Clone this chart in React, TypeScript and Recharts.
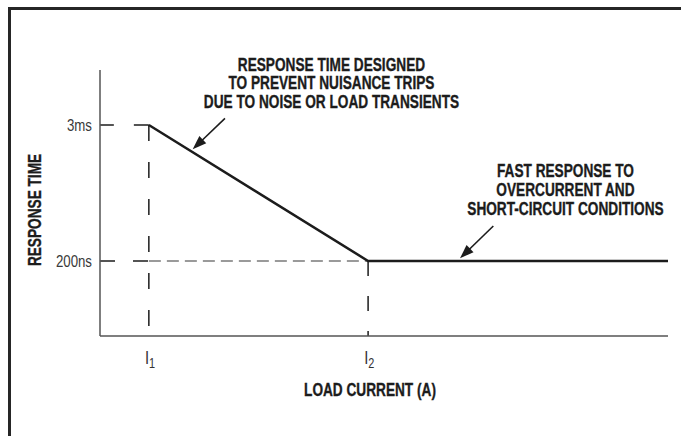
import React from "react";
import {
  LineChart,
  Line,
  XAxis,
  YAxis,
  ReferenceLine,
  ReferenceDot,
} from "recharts";

// load current (arbitrary units, 0..100 across the axis) and response time (0..100 up the axis)
const loadCurrent = [8.6, 47.2, 100];
const responseTime = [79.3, 28.2, 28.2];

const xTicks = [8.6, 47.2];
const xTickSubs = ["1", "2"];
const yTicks = [28.2, 79.3];
const yTickLabels = ["200ns", "3ms"];

const noteSlow = [
  "RESPONSE TIME DESIGNED",
  "TO PREVENT NUISANCE TRIPS",
  "DUE TO NOISE OR LOAD TRANSIENTS",
];
const noteSlowAt = [40.75, 102.1];
const arrowSlow = [
  [22.0, 81.8],
  [16.32, 70.2],
];

const noteFast = [
  "FAST RESPONSE TO",
  "OVERCURRENT AND",
  "SHORT-CIRCUIT CONDITIONS",
];
const noteFastAt = [81.95, 62.0];
const arrowFast = [
  [69.25, 41.35],
  [63.38, 29.2],
];

const data = loadCurrent.map((x, i) => ({ x, t: responseTime[i] }));

// no narrow face installed, so squeeze Liberation Sans horizontally (like Helvetica Condensed)
const FONT = '"Liberation Sans", Arial, sans-serif';
const SQUEEZE = 0.78;
const INK = "#1c1c1c";

const squeezeAt = (cx: number) =>
  `translate(${cx} 0) scale(${SQUEEZE} 1) translate(${-cx} 0)`;

function Arrow(props: any) {
  const { x1, y1, x2, y2 } = props;
  const dx = x2 - x1;
  const dy = y2 - y1;
  const len = Math.sqrt(dx * dx + dy * dy) || 1;
  const ux = dx / len;
  const uy = dy / len;
  const head = 14;
  const half = 5;
  const bx = x2 - ux * head;
  const by = y2 - uy * head;
  const pts = [
    [x2, y2],
    [bx - uy * half, by + ux * half],
    [bx + uy * half, by - ux * half],
  ]
    .map((p) => p.join(","))
    .join(" ");
  return (
    <g>
      <line x1={x1} y1={y1} x2={bx + ux * 2} y2={by + uy * 2} stroke={INK} strokeWidth={1.6} />
      <polygon points={pts} fill={INK} />
    </g>
  );
}

const boldText = {
  fontFamily: FONT,
  fontWeight: 700,
  fill: INK,
  stroke: INK,
  strokeWidth: 0.35,
};

function Note({ lines }: { lines: string[] }) {
  return (p: any) => (
    <g transform={squeezeAt(p.cx)}>
      <text x={p.cx} y={p.cy + 6.3} textAnchor="middle" fontSize={17.5} {...boldText}>
        {lines.map((l, i) => (
          <tspan key={i} x={p.cx} dy={i === 0 ? 0 : 18.6}>
            {l}
          </tspan>
        ))}
      </text>
    </g>
  );
}

function XTick(props: any) {
  const { x, y, payload } = props;
  const i = xTicks.indexOf(payload.value);
  return (
    <g transform={squeezeAt(x)}>
      <text x={x - 5} y={y + 20} fontFamily={FONT} fontSize={19} fill="#333">
        I
        <tspan fontSize={14} dy={4}>
          {xTickSubs[i]}
        </tspan>
      </text>
    </g>
  );
}

function YTick(props: any) {
  const { x, y, payload } = props;
  const label = yTickLabels[yTicks.indexOf(payload.value)];
  return (
    <g transform={squeezeAt(x)}>
      <text x={x} y={y} dy="0.36em" textAnchor="end" fontFamily={FONT} fontSize={17} fill="#3a3a3a">
        {label}
      </text>
    </g>
  );
}

export default function App() {
  return (
    <div
      style={{
        position: "relative",
        width: 681,
        height: 436,
        background: "#fff",
        overflow: "hidden",
      }}
    >
      <style>{`html,body{margin:0;overflow:hidden}`}</style>
      {/* outer frame: only top and left edges are visible */}
      <div style={{ position: "absolute", left: 8, top: 7, width: 673, height: 3, background: "#262626" }} />
      <div style={{ position: "absolute", left: 8, top: 7, width: 3, height: 429, background: "#262626" }} />
      <LineChart
        width={681}
        height={436}
        data={data}
        margin={{ top: 70, right: 13, bottom: 60, left: 0 }}
        style={{ position: "absolute", left: 0, top: 0 }}
      >
        <XAxis
          dataKey="x"
          type="number"
          domain={[0, 100]}
          ticks={xTicks}
          height={40}
          tickLine={false}
          axisLine={{ stroke: "#555", strokeWidth: 1.5 }}
          tick={<XTick />}
          label={{
            content: (p: any) => {
              const cx = p.viewBox.x + 270;
              return (
                <g transform={squeezeAt(cx)}>
                  <text x={cx} y={p.viewBox.y + 60} textAnchor="middle" fontSize={17.5} {...boldText}>
                    LOAD CURRENT (A)
                  </text>
                </g>
              );
            },
          }}
        />
        <YAxis
          type="number"
          domain={[0, 100]}
          ticks={yTicks}
          width={100}
          tickLine={false}
          axisLine={{ stroke: "#555", strokeWidth: 1.5 }}
          tick={<YTick />}
          label={{
            content: (p: any) => {
              const cx = p.viewBox.x + 35;
              const cy = p.viewBox.y + p.viewBox.height / 2 + 7;
              return (
                <g transform={`rotate(-90 ${cx} ${cy})`}>
                  <g transform={squeezeAt(cx)}>
                    <text
                      x={cx}
                      y={cy}
                      textAnchor="middle"
                      dominantBaseline="central"
                      fontSize={17.5}
                      {...boldText}
                    >
                      RESPONSE TIME
                    </text>
                  </g>
                </g>
              );
            },
          }}
        />
        {/* guide lines */}
        <ReferenceLine
          segment={[
            { x: xTicks[0], y: yTicks[1] },
            { x: 0, y: yTicks[1] },
          ]}
          stroke={INK}
          strokeWidth={1.5}
          strokeDasharray="15 20"
        />
        <ReferenceLine
          segment={[
            { x: xTicks[0], y: yTicks[1] },
            { x: xTicks[0], y: 0 },
          ]}
          stroke={INK}
          strokeWidth={1.5}
          strokeDasharray="16 21"
        />
        <ReferenceLine
          segment={[
            { x: 0, y: yTicks[0] },
            { x: xTicks[0], y: yTicks[0] },
          ]}
          stroke={INK}
          strokeWidth={1.5}
          strokeDasharray="15 18"
        />
        <ReferenceLine
          segment={[
            { x: xTicks[0], y: yTicks[0] },
            { x: xTicks[1], y: yTicks[0] },
          ]}
          stroke="#9a9a9a"
          strokeWidth={2}
          strokeDasharray="12 6"
        />
        <ReferenceLine
          segment={[
            { x: xTicks[1], y: yTicks[0] },
            { x: xTicks[1], y: 0 },
          ]}
          stroke={INK}
          strokeWidth={1.5}
          strokeDasharray="15 20"
        />
        <Line
          dataKey="t"
          type="linear"
          stroke={INK}
          strokeWidth={2.5}
          dot={false}
          activeDot={false}
          isAnimationActive={false}
        />
        {/* annotations */}
        <ReferenceLine
          segment={[
            { x: arrowSlow[0][0], y: arrowSlow[0][1] },
            { x: arrowSlow[1][0], y: arrowSlow[1][1] },
          ]}
          shape={Arrow}
        />
        <ReferenceLine
          segment={[
            { x: arrowFast[0][0], y: arrowFast[0][1] },
            { x: arrowFast[1][0], y: arrowFast[1][1] },
          ]}
          shape={Arrow}
        />
        <ReferenceDot
          x={noteSlowAt[0]}
          y={noteSlowAt[1]}
          r={0}
          ifOverflow="visible"
          shape={Note({ lines: noteSlow })}
        />
        <ReferenceDot
          x={noteFastAt[0]}
          y={noteFastAt[1]}
          r={0}
          ifOverflow="visible"
          shape={Note({ lines: noteFast })}
        />
      </LineChart>
    </div>
  );
}
